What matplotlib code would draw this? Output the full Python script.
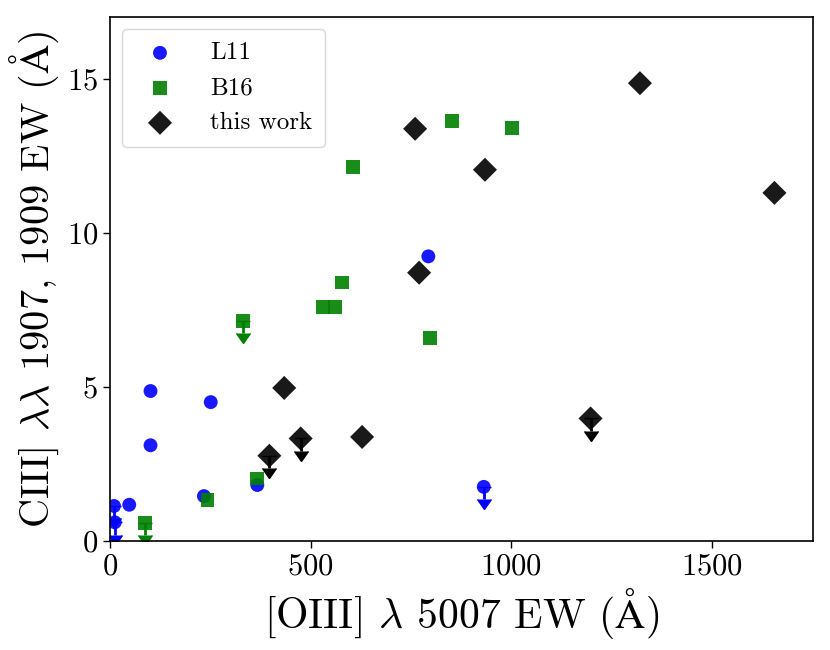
import numpy as np
import matplotlib
matplotlib.use('Agg')
import matplotlib.pyplot as plt

plt.rcParams['font.family'] = 'serif'
plt.rcParams['font.serif'] = ['cmr10']
plt.rcParams['mathtext.fontset'] = 'cm'
plt.rcParams['axes.formatter.use_mathtext'] = True

# L11
l11_x = [10, 12, 48, 101, 101, 251, 234, 367, 793, 931]
l11_y = [1.13, 0.60, 1.17, 4.86, 3.10, 4.50, 1.45, 1.81, 9.23, 1.75]
l11_lim = [1, 1, 0, 0, 0, 0, 0, 0, 0, 1]

# B16
b16_x = [87, 243, 367, 332, 531, 560, 797, 578, 605, 851, 1002]
b16_y = [0.58, 1.33, 2.02, 7.13, 7.58, 7.60, 6.59, 8.38, 12.14, 13.61, 13.40]
b16_lim = [1, 0, 0, 1, 0, 0, 0, 0, 0, 0, 0]

# this work
tw_x = [434, 397, 475, 628, 1197, 760, 770, 934, 1320, 1655]
tw_y = [4.96, 2.76, 3.32, 3.37, 3.97, 13.37, 8.70, 12.04, 14.85, 11.29]
tw_lim = [0, 1, 1, 0, 1, 0, 0, 0, 0, 0]

fig, ax = plt.subplots(figsize=(8.3, 6.5), dpi=100)
fig.subplots_adjust(left=0.1325, right=0.979, top=0.974, bottom=0.168)

sets = [(l11_x, l11_y, l11_lim, 'blue', 'o', 100, 'L11'),
        (b16_x, b16_y, b16_lim, 'green', 's', 100, 'B16'),
        (tw_x, tw_y, tw_lim, 'k', 'D', 150, 'this work')]

for xs, ys, lim, c, m, s, lab in sets:
    xs = np.array(xs); ys = np.array(ys); lim = np.array(lim, dtype=bool)
    ax.scatter(xs, ys, c=c, marker=m, s=s, alpha=0.9, edgecolors='none', label=lab)
    # upper limits get a downward arrow
    ax.errorbar(xs[lim], ys[lim], yerr=0.4, uplims=True, fmt='none',
                color=c, elinewidth=2, capsize=5)

ax.set_xlim(0, 1750)
ax.set_ylim(0, 17)
ax.set_xticks([0, 500, 1000, 1500])
ax.set_yticks([0, 5, 10, 15])
ax.tick_params(labelsize=22, length=5, width=1)
for sp in ax.spines.values():
    sp.set_linewidth(1.2)

ax.set_xlabel(r'[OIII] $\lambda$ 5007 EW ($\mathrm{\AA}$)', fontsize=30)
ax.set_ylabel(r'CIII] $\lambda\lambda$ 1907, 1909 EW ($\mathrm{\AA}$)', fontsize=29)

ax.legend(loc='upper left', fontsize=18, handletextpad=1.0, borderpad=0.5)

fig.savefig('out.png', dpi=100)
